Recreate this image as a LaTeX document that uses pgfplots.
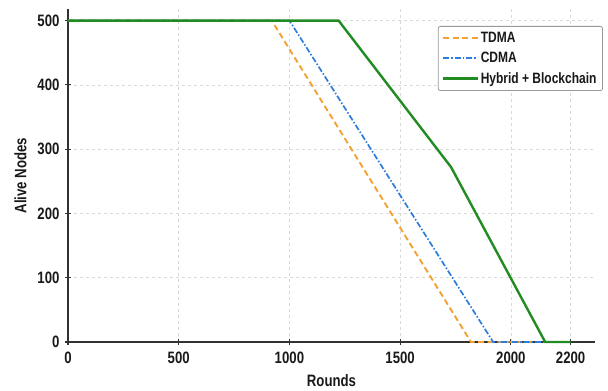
\documentclass[border=0pt]{standalone}
\usepackage{fontspec}
\setmainfont[FakeStretch=0.8]{Liberation Sans}
\usepackage{pgfplots}
\pgfplotsset{compat=1.18}
\definecolor{cOrange}{RGB}{245,160,50}
\definecolor{cBlue}{RGB}{45,125,220}
\definecolor{cGreen}{RGB}{34,139,34}
\definecolor{cSpine}{RGB}{50,50,50}
\begin{document}
\begin{tikzpicture}
\begin{axis}[
  at={(0,0)}, anchor=south west,
  width=527pt, height=333pt, scale only axis,
  xmin=0, xmax=2380, ymin=0, ymax=518,
  axis lines=left,
  axis line style={-, cSpine, line width=1.5pt},
  xtick={0,500,1000,1500,2000,2270},
  xticklabels={0,500,1000,1500,2000,2200},
  ytick={0,100,200,300,400,500},
  tick align=center,
  major tick length=6pt,
  tick style={cSpine, line width=1.2pt},
  grid=major,
  major grid style={gray!30, dash pattern=on 3pt off 3pt, line width=0.6pt},
  /pgf/number format/assume math mode=true,
  tick label style={font=\fontsize{16.5}{18}\selectfont\bfseries, text=black!90},
  yticklabel style={xshift=-2pt},
  xticklabel style={yshift=-3pt},
  xlabel={Rounds}, ylabel={Alive Nodes},
  label style={font=\fontsize{16.5}{18}\selectfont\bfseries, text=black!90},
  xlabel style={yshift=-4pt},
  ylabel style={yshift=4pt},
  legend style={at={(1.015,0.949)}, anchor=north east, draw=gray!80, rounded corners=2pt,
    line width=0.8pt, font=\fontsize{15}{17}\selectfont\bfseries, text=black!90,
    row sep=4pt, inner xsep=4pt, inner ysep=4pt},
  legend cell align=left,
  legend image code/.code={\draw[#1] (0cm,0cm) -- (1.2cm,0cm);},
  clip=false,
]
\addplot[cOrange, line width=1.9pt, dash pattern=on 6pt off 3.5pt] coordinates {(0,500) (920,500) (1820,0) (2150,0)};
\addlegendentry{TDMA}
\addplot[cBlue, line width=1.7pt, dash pattern=on 6pt off 2pt on 1.5pt off 2pt] coordinates {(0,500) (1000,500) (1920,0) (2150,0)};
\addlegendentry{CDMA}
\addplot[cGreen, line width=2.4pt] coordinates {(0,500) (1222,500) (1730,272) (2155,0) (2270,0)};
\addlegendentry{Hybrid + Blockchain}
\end{axis}
\pgfresetboundingbox
\path (-68pt,-49pt) rectangle (540pt,342pt);
\end{tikzpicture}
\end{document}
